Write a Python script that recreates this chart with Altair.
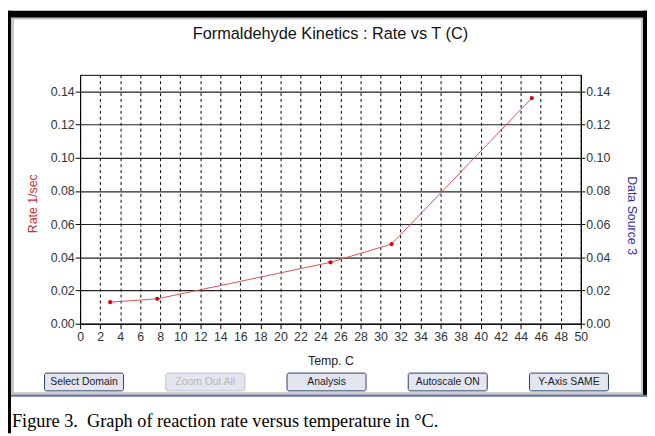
import altair as alt
import pandas as pd

# ---- data ----
temps = [3.0, 7.7, 25.0, 31.1, 45.1]
rates = [0.013, 0.015, 0.037, 0.048, 0.136]
x_ticks = list(range(0, 51, 2))
y_ticks = [0.0, 0.02, 0.04, 0.06, 0.08, 0.10, 0.12, 0.14]
buttons = ["Select Domain", "Zoom Out All", "Analysis", "Autoscale ON", "Y-Axis SAME"]
title_text = "Formaldehyde Kinetics : Rate vs T (C)"
caption_text = "Figure 3.\u00a0 Graph of reaction rate versus temperature in \u00b0C."

df = pd.DataFrame({"temp": temps, "rate": rates})
one = pd.DataFrame({"k": [0]})
btn_df = pd.DataFrame({"label": buttons, "i": list(range(len(buttons)))})

W, H = 507, 252
FONT = "Liberation Sans"

xscale = alt.Scale(domain=[0, 50], nice=False, zero=False)
yscale = alt.Scale(domain=[0, 0.15], nice=False)

xaxis = alt.Axis(values=x_ticks, title="Temp. C", grid=True, gridDash=[3, 3], gridColor="#000",
                 gridWidth=1, tickSize=5, tickColor="#000", domainColor="#000", labelPadding=2,
                 labelFontSize=12.5, labelFont=FONT, labelColor="#333", titleFont=FONT,
                 titleFontSize=12.5, titleFontWeight="normal", titleColor="#222",
                 titleX=W / 2, titleY=37, titleBaseline="middle", labelFlush=False,
                 labelOverlap=False)
yaxis_left = alt.Axis(values=y_ticks, format=".2f", title="Rate 1/sec", grid=True, gridColor="#222",
                      gridWidth=1.2, tickSize=5, tickColor="#000", domainColor="#000",
                      labelPadding=1, labelFontSize=12.5, labelFont=FONT, labelColor="#333",
                      titleFont=FONT, titleFontSize=12.5, titleFontWeight="normal",
                      titleColor="#cc3333", titleX=-48, titleY=130, titleBaseline="middle",
                      labelFlush=False, labelOverlap=False)
yaxis_right = alt.Axis(orient="right", values=y_ticks, format=".2f", title="Data Source 3",
                       grid=False, tickSize=4, tickColor="#000", domainColor="#000",
                       labelPadding=1, labelFontSize=12.5, labelFont=FONT, labelColor="#333",
                       titleFont=FONT, titleFontSize=12.5, titleFontWeight="normal",
                       titleColor="#3333aa", titleX=51, titleY=142, titleBaseline="middle",
                       titleAngle=90, labelFlush=False, labelOverlap=False)

base = alt.Chart(df)
line = base.mark_line(color="#e05050", strokeWidth=1).encode(
    x=alt.X("temp:Q", scale=xscale, axis=xaxis),
    y=alt.Y("rate:Q", scale=yscale, axis=yaxis_left),
)
pts = base.mark_circle(color="#e00000", size=18, opacity=1).encode(
    x=alt.X("temp:Q", scale=xscale, axis=xaxis),
    y=alt.Y("rate:Q", scale=yscale, axis=yaxis_left),
)
inner = alt.layer(line, pts)
right = base.mark_point(opacity=0).encode(
    x=alt.X("temp:Q", scale=xscale, axis=xaxis),
    y=alt.Y("rate:Q", scale=yscale, axis=yaxis_right),
)
plot = alt.layer(inner, right).resolve_scale(y="independent")

# ---- window chrome (pixels relative to plot origin) ----
def box(x0, x1, y0, y1, **kw):
    return alt.Chart(one).mark_rect(**kw).encode(
        x=alt.value(x0), x2=alt.value(x1), y=alt.value(y0), y2=alt.value(y1))

chrome = [
    box(-68.5, 569.5, -57.5, 323, fillOpacity=0, stroke="#c4c4c4", strokeWidth=3),
    box(-73, -70, -65, 363, color="#000"),
    box(-73, 574, -65, -58, color="#000"),
    box(570, 574, -65, 325, color="#000"),
    box(-70, 574, 324, 326, color="#6170b0"),
]

title_mark = alt.Chart(one).mark_text(text=title_text, font=FONT, fontSize=16.5, color="#111",
                                      baseline="middle", align="center").encode(
    x=alt.value(W / 2), y=alt.value(-41))

btn_base = alt.Chart(btn_df).transform_calculate(
    cx="4 + datum.i * 122.75", x0="datum.cx - 40", x1="datum.cx + 40")
disabled = "datum.label == 'Zoom Out All'"
btn_rect = btn_base.mark_rect(fill="#e3e6ef", strokeWidth=1, cornerRadius=2).encode(
    x=alt.X("x0:Q", scale=None), x2="x1:Q",
    y=alt.value(302), y2=alt.value(320),
    stroke=alt.condition(disabled, alt.value("#c0c0cc"), alt.value("#2c3a68")),
)
btn_text = btn_base.mark_text(font=FONT, fontSize=10.5, baseline="middle").encode(
    x=alt.X("cx:Q", scale=None), y=alt.value(311), text="label:N",
    color=alt.condition(disabled, alt.value("#b8b8b8"), alt.value("#1a1a2a")),
)

caption = alt.Chart(one).mark_text(text=caption_text, font="Liberation Serif", fontSize=18.5,
                                   color="#000", align="left", baseline="alphabetic").encode(
    x=alt.value(-69), y=alt.value(357))

chart = alt.layer(*chrome, title_mark, btn_rect, btn_text, caption, plot).properties(
    width=W, height=H,
    autosize=alt.AutoSizeParams(type="none"),
    padding={"left": 73, "top": 65, "right": 67, "bottom": 111},
    background="white",
).configure_view(stroke="#000", strokeWidth=1).configure_axis(labelOverlap=False)

chart.save("out.html", embed_options={"renderer": "svg", "actions": False})
